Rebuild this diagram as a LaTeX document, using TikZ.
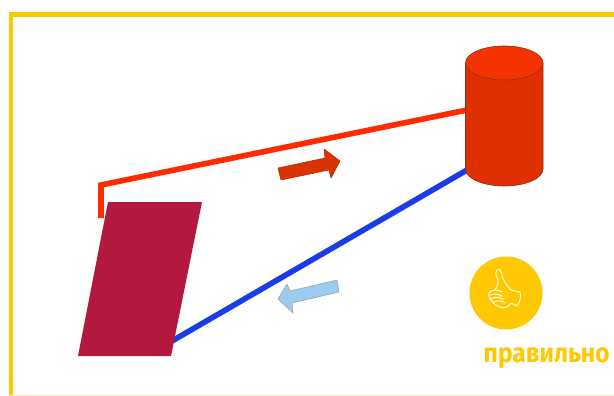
\documentclass[tikz,border=0pt]{standalone}
\usepackage{fontspec}
\newfontfamily\labelfont[FakeStretch=0.91]{Fira Sans}
\definecolor{gold}{HTML}{FFC800}
\definecolor{wine}{HTML}{B3193F}
\definecolor{cylbody}{HTML}{DE3000}
\definecolor{cyltop}{HTML}{F53300}
\definecolor{cyledge}{HTML}{9A2A10}
\definecolor{redline}{HTML}{FF2A00}
\definecolor{blueline}{HTML}{1A3CE8}
\definecolor{arrowred}{HTML}{D93300}
\definecolor{arrowblue}{HTML}{9CCBF0}
\tikzset{
  x=1pt,y=-1pt,
  frameline/.style={draw=gold,line width=4.5pt},
  wire/.style={line width=5.6pt,line cap=butt,line join=miter},
  cyl/.style={draw=cyledge,line width=0.6pt},
  hint/.style={line width=0.5pt,line join=round},
  thumb/.style={draw=white,line width=0.9pt,line join=round,line cap=round}
}
\begin{document}
\begin{tikzpicture}
\useasboundingbox (0,0) rectangle (614,396);
\fill[white] (0,0) rectangle (614,396);
% frame
\draw[frameline] (11,396) -- (11,14.5) -- (614,14.5);
\fill[gold!35] (9,394.5) rectangle (614,396);
% anchors
\coordinate (redA) at (467,110);
\coordinate (redB) at (101,185);
\coordinate (redC) at (101,218);
\coordinate (blueA) at (467,170);
\coordinate (blueB) at (172,341);
% connectors
\draw[wire,redline] (redA) -- (redB) -- (redC);
\draw[wire,blueline] (blueA) -- (blueB);
% plate
\fill[wine] (108,202) -- (202,202) -- (171,356) -- (78,356) -- cycle;
% cylinder
\path[cyl,fill=cylbody] (465.5,63) -- (465.5,169) arc[start angle=180,end angle=360,x radius=38.75,y radius=-17] -- (543,63) -- cycle;
\path[cyl,fill=cyltop] (504.25,63) ellipse[x radius=38.75,y radius=17];
% direction arrows
\path[fill=arrowred,draw=arrowred!75!black,hint] (278,168) -- (325,158) -- (324,149) -- (340,161) -- (331,178) -- (329,170) -- (281,180) -- cycle;
\path[fill=arrowblue,draw=gray!80,hint] (337,280) -- (290,291) -- (287,284) -- (278,299) -- (293,313) -- (292,303) -- (339,292) -- cycle;
% badge
\fill[gold] (506,293) circle[radius=36.5];
\begin{scope}[shift={(475,262)},x=0.3333pt,y=-0.3333pt]
\draw[thumb] (60,84) .. controls (68,70) and (72,58) .. (67,48) .. controls (62,38) and (60,30) .. (66,24) .. controls (72,18) and (78,24) .. (79,32) .. controls (82,52) and (92,66) .. (106,82) .. controls (116,88) and (128,88) .. (135,90) .. controls (138,102) and (137,118) .. (125,132) .. controls (118,128) and (114,124) .. (108,124) .. controls (98,134) and (90,142) .. (72,134) .. controls (60,130) and (48,118) .. (42,104) .. controls (38,94) and (44,86) .. (60,84) .. controls (68,84) and (76,86) .. (82,90);
\draw[thumb] (42,100) .. controls (55,94) and (70,96) .. (82,102);
\draw[thumb] (47,111) .. controls (60,104) and (74,106) .. (86,112);
\draw[thumb] (55,121) .. controls (68,114) and (80,116) .. (90,122);
\end{scope}
\node[inner sep=0pt,anchor=base west,text=gold,font=\labelfont\bfseries\fontsize{27}{27}\selectfont] (lbl) at (483.5,362) {правильно};
\end{tikzpicture}
\end{document}
